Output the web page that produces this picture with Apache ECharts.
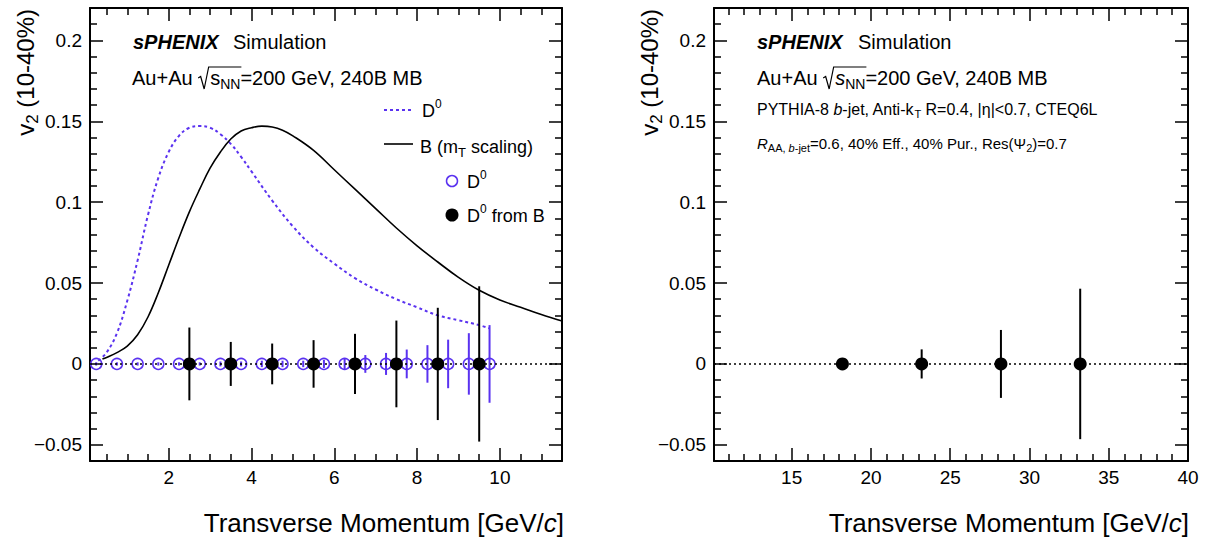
<!DOCTYPE html>
<html>
<head>
<meta charset="utf-8">
<script src="https://cdn.jsdelivr.net/npm/echarts@6/dist/echarts.min.js"></script>
<style>
  html, body { margin: 0; padding: 0; background: #fff; }
  #main { width: 1211px; height: 537px; }
</style>
</head>
<body>
<div id="main"></div>
<script>
// ---- values ----
// D0 v2 model curve (dotted blue)
var d0CurveX = [0.3, 0.5, 0.75, 1.0, 1.25, 1.5, 1.75, 2.0, 2.25, 2.5, 2.75, 3.0, 3.25, 3.5, 3.75, 4.0, 4.5, 5.0, 5.5, 6.0, 6.5, 7.0, 7.5, 8.0, 8.5, 9.0, 9.5, 9.75];
var d0CurveV = [0.002, 0.007, 0.019, 0.039, 0.064, 0.092, 0.115, 0.131, 0.141, 0.146, 0.147, 0.146, 0.142, 0.136, 0.128, 0.119, 0.101, 0.085, 0.072, 0.062, 0.053, 0.046, 0.040, 0.035, 0.030, 0.027, 0.024, 0.022];
// B (mT scaling) curve (solid black)
var bCurveX = [0.4, 0.5, 0.75, 1.0, 1.25, 1.5, 1.75, 2.0, 2.25, 2.5, 2.75, 3.0, 3.25, 3.5, 3.75, 4.0, 4.25, 4.5, 4.75, 5.0, 5.5, 6.0, 6.5, 7.0, 7.5, 8.0, 8.5, 9.0, 9.5, 10.0, 10.5, 11.0, 11.5];
var bCurveV = [0.003, 0.004, 0.007, 0.011, 0.018, 0.029, 0.044, 0.061, 0.078, 0.094, 0.108, 0.121, 0.131, 0.139, 0.144, 0.146, 0.147, 0.1465, 0.1445, 0.141, 0.132, 0.120, 0.108, 0.096, 0.084, 0.073, 0.063, 0.0535, 0.0455, 0.0395, 0.035, 0.0305, 0.0265];
// D0 projected points (open blue circles)
var d0PtX = [0.25, 0.75, 1.25, 1.75, 2.25, 2.75, 3.25, 3.75, 4.25, 4.75, 5.25, 5.75, 6.25, 6.75, 7.25, 7.75, 8.25, 8.75, 9.25, 9.75];
var d0PtV = [0, 0, 0, 0, 0, 0, 0, 0, 0, 0, 0, 0, 0, 0, 0, 0, 0, 0, 0, 0];
var d0PtErr = [0.001, 0.001, 0.001, 0.001, 0.001, 0.001, 0.0015, 0.0015, 0.002, 0.002, 0.002, 0.0025, 0.0035, 0.0055, 0.0068, 0.0089, 0.0116, 0.015, 0.019, 0.024];
// D0 from B points (filled black)
var d0BX = [2.5, 3.5, 4.5, 5.5, 6.5, 7.5, 8.5, 9.5];
var d0BV = [0, 0, 0, 0, 0, 0, 0, 0];
var d0BErr = [0.0225, 0.0136, 0.0126, 0.0147, 0.0186, 0.0268, 0.0347, 0.048];
// b-jet points (right panel)
var jetX = [18.2, 23.2, 28.2, 33.2];
var jetV = [0, 0, 0, 0];
var jetErr = [0.002, 0.009, 0.021, 0.0465];
// tick labels
var leftXTicks = [2, 4, 6, 8, 10];
var rightXTicks = [15, 20, 25, 30, 35, 40];
var yTicks = [-0.05, 0, 0.05, 0.1, 0.15, 0.2];

var BLUE = '#5a32f0';
var FAM = '"Liberation Sans", Arial, Helvetica, sans-serif';

function zip(xs, ys, es) {
  return xs.map(function (x, i) { return es ? [x, ys[i], es[i]] : [x, ys[i]]; });
}
function minorList(from, to, step, majorStep) {
  var out = [];
  for (var k = 0; from + k * step <= to + 1e-9; k++) {
    var v = Math.round((from + k * step) * 1000) / 1000;
    var r = v / majorStep;
    if (Math.abs(r - Math.round(r)) > 1e-6) out.push(v);
  }
  return out;
}
var leftXMinor = minorList(0.5, 11.5, 0.5, 2);
var rightXMinor = minorList(11, 39, 1, 5);
var yMinor = minorList(-0.06, 0.22, 0.01, 0.05);

function fmt(v) { return v < 0 ? '\u2212' + (-v) : '' + v; }

function axisSet(kind, grid, min, max, major, minor, showLabels) {
  var pos = kind === 'x' ? ['bottom', 'top'] : ['left', 'right'];
  function ax(p, vals, len, labels, line) {
    return {
      type: 'value', gridIndex: grid, position: p, min: min, max: max,
      axisLine: { show: line, onZero: false, lineStyle: { color: '#000', width: 2 } },
      axisTick: { show: true, inside: true, length: len, customValues: vals, lineStyle: { color: '#000', width: 1.5 } },
      axisLabel: {
        show: labels, customValues: vals, formatter: fmt, color: '#000',
        fontFamily: FAM, fontSize: 19, margin: kind === 'x' ? 7 : 8
      },
      splitLine: { show: false }, minorTick: { show: false }
    };
  }
  return [
    ax(pos[0], major, 13, showLabels, true),
    ax(pos[0], minor, 7, false, false),
    ax(pos[1], major, 13, false, true),
    ax(pos[1], minor, 7, false, false)
  ];
}

// ---- text helpers (sub/superscripts) ----
var mctx = document.createElement('canvas').getContext('2d');
function fnt(s, it, bd) { return (it ? 'italic ' : '') + (bd ? 'bold ' : '') + s + 'px ' + FAM; }
function textRun(x, base, size, parts) {
  var els = [], cx = x, rad = null;
  parts.forEach(function (p) {
    if (typeof p === 'string') p = { t: p };
    if (p.rad) { rad = cx; cx += size * 0.6; return; }
    var s = size, dy = 0;
    if (p.sub) { s = Math.round(size * 0.7); dy = size * 0.2; }
    if (p.sup) { s = Math.round(size * 0.65); dy = -size * 0.48; }
    var f = fnt(s, p.it, p.bd);
    els.push({
      type: 'text', x: cx, y: base + dy - 0.35 * s,
      style: { text: p.t, font: f, fill: '#000', align: 'left', verticalAlign: 'middle' }
    });
    mctx.font = f;
    cx += mctx.measureText(p.t).width;
    if (p.overEnd && rad !== null) {
      els.push({
        type: 'polyline',
        shape: { points: [[rad, base - 7], [rad + 2.5, base - 8.5], [rad + 6, base + 4], [rad + 10.5, base - 18], [cx + 1, base - 18]] },
        style: { stroke: '#000', lineWidth: 1.2, fill: null }
      });
    }
  });
  return { els: els, width: cx - x };
}

var graphics = [];
function add(r) { graphics = graphics.concat(r.els); }

// left panel texts
add(textRun(133, 49, 20, [{ t: 'sPHENIX', it: true, bd: true }]));
add(textRun(233, 49, 20, ['Simulation']));
add(textRun(132, 85, 20, ['Au+Au ', { rad: true }, 's', { t: 'NN', sub: true, overEnd: true }, '=200 GeV, 240B MB']));
// right panel texts
add(textRun(757, 49, 20, [{ t: 'sPHENIX', it: true, bd: true }]));
add(textRun(858, 49, 20, ['Simulation']));
add(textRun(757, 85, 20, ['Au+Au ', { rad: true }, { t: 's', it: true }, { t: 'NN', sub: true, overEnd: true }, '=200 GeV, 240B MB']));
add(textRun(757, 115, 16, ['PYTHIA-8 ', { t: 'b', it: true }, '-jet, Anti-k', { t: 'T', sub: true }, ' R=0.4, |\u03b7|<0.7, CTEQ6L']));
add(textRun(757, 149, 15, [{ t: 'R', it: true }, { t: 'AA, ', sub: true }, { t: 'b', sub: true, it: true }, { t: '-jet', sub: true }, '=0.6, 40% Eff., 40% Pur., Res(\u03a8', { t: '2', sub: true }, ')=0.7']));

// legend (left panel)
graphics.push({ type: 'line', shape: { x1: 384, y1: 110, x2: 413, y2: 110 }, style: { stroke: BLUE, lineWidth: 2, lineDash: [3, 3] } });
add(textRun(422, 117, 18, ['D', { t: '0', sup: true }]));
graphics.push({ type: 'line', shape: { x1: 384, y1: 144, x2: 413, y2: 144 }, style: { stroke: '#000', lineWidth: 1.6 } });
add(textRun(420, 153, 18, ['B (m', { t: 'T', sub: true }, ' scaling)']));
graphics.push({ type: 'circle', shape: { cx: 452, cy: 181, r: 5.5 }, style: { fill: null, stroke: BLUE, lineWidth: 1.5 } });
add(textRun(467, 188, 18, ['D', { t: '0', sup: true }]));
graphics.push({ type: 'circle', shape: { cx: 452, cy: 215, r: 6.5 }, style: { fill: '#000' } });
add(textRun(467, 222, 18, ['D', { t: '0', sup: true }, ' from B']));

// axis titles
[564, 1189].forEach(function (endX) {
  var parts = ['Transverse Momentum [GeV/', { t: 'c', it: true }, ']'];
  var w = textRun(0, 0, 26, parts).width;
  add(textRun(endX - w, 532, 26, parts));
});
[34, 658].forEach(function (bx) {
  var r = textRun(0, 0, 24, ['v', { t: '2', sub: true }, ' (10-40%)']);
  graphics.push({ type: 'group', x: bx, y: 9 + r.width, rotation: Math.PI / 2, children: r.els });
});

function errBar(color) {
  return function (params, api) {
    var x = api.value(0), y = api.value(1), e = api.value(2);
    var a = api.coord([x, y + e]), b = api.coord([x, y - e]);
    return { type: 'line', shape: { x1: a[0], y1: a[1], x2: b[0], y2: b[1] }, style: { stroke: color, lineWidth: 2 } };
  };
}
var zeroLine = {
  silent: true, symbol: 'none', label: { show: false },
  lineStyle: { color: '#000', type: [2, 3], width: 1.5 },
  data: [{ yAxis: 0 }]
};

var chart = echarts.init(document.getElementById('main'), null, { renderer: 'svg' });
chart.setOption({
  animation: false,
  backgroundColor: '#fff',
  grid: [
    { left: 90, top: 8, width: 472, height: 453, outerBoundsMode: 'none' },
    { left: 714, top: 8, width: 474, height: 453, outerBoundsMode: 'none' }
  ],
  xAxis: axisSet('x', 0, 0.1, 11.5, leftXTicks, leftXMinor, true)
    .concat(axisSet('x', 1, 10.1, 40, rightXTicks, rightXMinor, true)),
  yAxis: axisSet('y', 0, -0.06, 0.22, yTicks, yMinor, true)
    .concat(axisSet('y', 1, -0.06, 0.22, yTicks, yMinor, true)),
  graphic: graphics,
  series: [
    {
      type: 'line', name: 'D0 model', xAxisIndex: 0, yAxisIndex: 0, z: 2,
      data: zip(d0CurveX, d0CurveV), showSymbol: false, smooth: 0.4,
      lineStyle: { color: BLUE, width: 2, type: [3, 3] }
    },
    {
      type: 'line', name: 'B (mT scaling)', xAxisIndex: 0, yAxisIndex: 0, z: 2,
      data: zip(bCurveX, bCurveV), showSymbol: false, smooth: 0.4,
      lineStyle: { color: '#000', width: 1.6 }, markLine: zeroLine
    },
    {
      type: 'custom', name: 'D0 err', xAxisIndex: 0, yAxisIndex: 0, z: 3,
      data: zip(d0PtX, d0PtV, d0PtErr), encode: { x: 0, y: 1 }, renderItem: errBar(BLUE)
    },
    {
      type: 'scatter', name: 'D0', xAxisIndex: 0, yAxisIndex: 0, z: 4,
      data: zip(d0PtX, d0PtV), symbol: 'circle', symbolSize: 11,
      itemStyle: { color: 'rgba(0,0,0,0)', borderColor: BLUE, borderWidth: 1.5, opacity: 1 }
    },
    {
      type: 'custom', name: 'D0 from B err', xAxisIndex: 0, yAxisIndex: 0, z: 5,
      data: zip(d0BX, d0BV, d0BErr), encode: { x: 0, y: 1 }, renderItem: errBar('#000')
    },
    {
      type: 'scatter', name: 'D0 from B', xAxisIndex: 0, yAxisIndex: 0, z: 6,
      data: zip(d0BX, d0BV), symbol: 'circle', symbolSize: 13, itemStyle: { color: '#000', opacity: 1 }
    },
    {
      type: 'custom', name: 'b-jet err', xAxisIndex: 4, yAxisIndex: 4, z: 3,
      data: zip(jetX, jetV, jetErr), encode: { x: 0, y: 1 }, renderItem: errBar('#000'),
      markLine: zeroLine
    },
    {
      type: 'scatter', name: 'b-jet', xAxisIndex: 4, yAxisIndex: 4, z: 6,
      data: zip(jetX, jetV), symbol: 'circle', symbolSize: 13, itemStyle: { color: '#000', opacity: 1 }
    }
  ]
});
</script>
</body>
</html>
